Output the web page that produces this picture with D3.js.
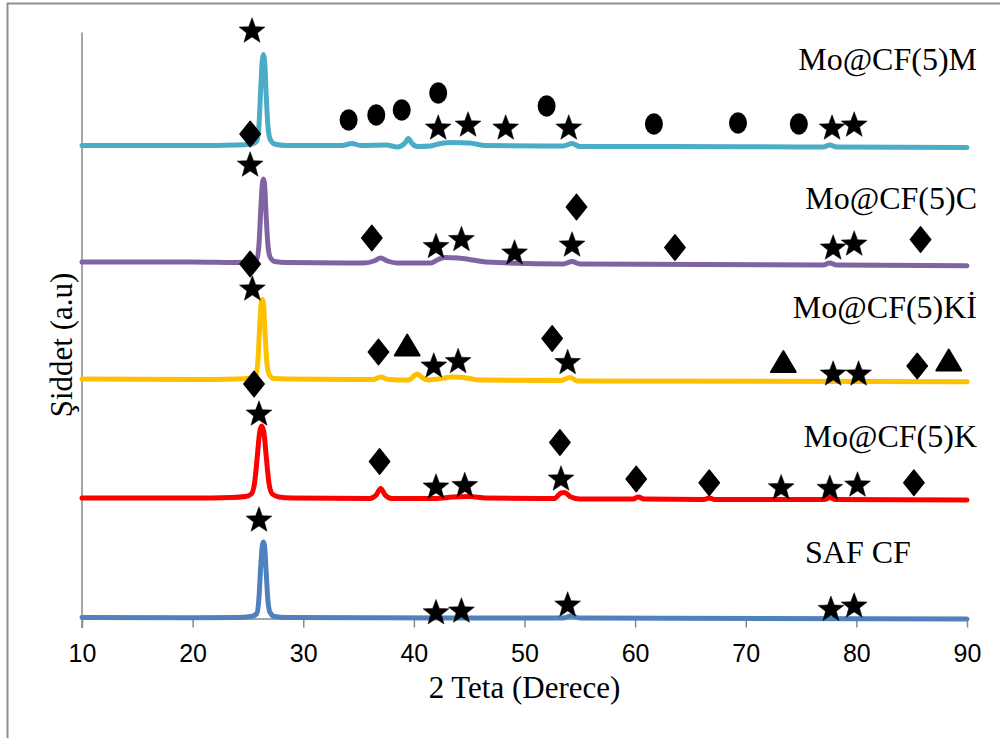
<!DOCTYPE html>
<html><head><meta charset="utf-8">
<script src="https://cdn.jsdelivr.net/npm/d3@7"></script>
<style>body{margin:0;background:#fff}svg{display:block}</style>
</head><body><svg id="chart" width="1000" height="738"></svg>
<script>
// ---------------- DATA ----------------
const seriesNames = ["SAF CF", "Mo@CF(5)K", "Mo@CF(5)Kİ", "Mo@CF(5)C", "Mo@CF(5)M"];
const seriesColors = ["#4F81BD", "#FF0000", "#FFC000", "#8064A2", "#4BACC6"];
// vertical stacking offsets (a.u.)
const seriesOffsets = [0, 1195, 2385, 3555, 4720];

// [2θ, intensity a.u.] relative to each trace's baseline
const safCF = [[10,0],[20,-2],[24,0],[25.3,10],[25.8,40],[26.0,200],[26.15,500],[26.3,720],[26.4,755],[26.5,720],[26.65,450],[26.8,180],[27.0,50],[27.4,10],[28.5,0],[53.5,-5],[54.2,15],[55,-5],[90,-15]];
const moK = [[10,0],[20,0],[23.5,5],[24.8,15],[25.3,40],[25.6,150],[25.85,420],[26.05,650],[26.24,720],[26.45,650],[26.65,420],[26.9,150],[27.2,40],[27.8,10],[29,0],[36.0,-5],[36.6,30],[37.0,95],[37.4,30],[38,-5],[42,-5],[43.5,10],[45,15],[46.5,0],[52.7,-5],[53.3,50],[53.6,55],[54.2,10],[55,-10],[59.8,-10],[60.3,10],[60.8,-10],[66.2,-15],[66.7,0],[67.2,-15],[77.1,-15],[77.6,5],[78.1,-15],[90,-20]];
const moKI = [[10,0],[20,-5],[24,0],[25.3,10],[25.7,30],[25.9,180],[26.05,500],[26.2,760],[26.3,795],[26.4,760],[26.55,450],[26.7,180],[26.9,50],[27.3,5],[28.5,0],[36.3,-5],[37.0,20],[37.7,-5],[39.5,-10],[40.3,50],[40.8,10],[41.3,-10],[42.2,0],[43.5,20],[44.5,15],[46,-10],[53.3,-15],[54.1,15],[54.8,-20],[90,-27]];
const moC = [[10,0],[20,0],[24,-5],[25.3,0],[25.8,30],[26.0,180],[26.15,500],[26.3,780],[26.4,830],[26.5,780],[26.65,450],[26.8,180],[27.0,50],[27.4,5],[28.5,-5],[35.5,-10],[36.4,10],[37.0,40],[37.6,10],[38.5,-10],[41.5,-10],[42.2,25],[42.8,45],[44,40],[45.3,20],[46.5,0],[53.5,-20],[54.3,5],[55.0,-20],[77.0,-30],[77.6,-10],[78.2,-30],[90,-37]];
const moM = [[10,0],[20,0],[24,5],[25.3,15],[25.8,45],[26.0,205],[26.15,555],[26.3,855],[26.4,910],[26.5,855],[26.65,505],[26.8,205],[27.0,65],[27.4,15],[28.5,0],[33.5,0],[34.4,20],[35.2,0],[37.5,5],[38.5,-15],[39.2,25],[39.5,70],[39.8,25],[40.3,-10],[41.5,-5],[42.4,20],[43.5,30],[45,25],[46.5,0],[53.5,-5],[54.3,20],[55.0,-10],[61.6,-10],[77.0,-15],[77.6,5],[78.2,-15],[90,-20]];
const seriesData = [safCF, moK, moKI, moC, moM];

// phase markers: [2θ, absolute intensity a.u., symbol]
const markersSAF = [[26.0,985,"star"],[42.0,58,"star"],[44.3,75,"star"],[53.9,135,"star"],[77.7,92,"star"],[79.8,125,"star"]];
const markersK = [[26.0,2045,"star"],[36.9,1560,"diamond"],[42.0,1315,"star"],[44.6,1330,"star"],[53.2,1750,"diamond"],[53.3,1395,"star"],[60.1,1385,"diamond"],[66.7,1348,"diamond"],[73.2,1308,"star"],[77.6,1302,"star"],[80.1,1335,"star"],[85.2,1348,"diamond"]];
const markersKI = [[25.4,3295,"star"],[25.55,2335,"diamond"],[36.8,2655,"diamond"],[39.4,2725,"triangle"],[41.8,2525,"star"],[44.0,2570,"star"],[52.5,2790,"diamond"],[53.9,2560,"star"],[73.4,2560,"triangle"],[77.9,2445,"star"],[80.2,2445,"star"],[85.5,2515,"diamond"],[88.35,2575,"triangle"]];
const markersC = [[25.2,4535,"star"],[25.2,3535,"diamond"],[36.2,3795,"diamond"],[42.0,3720,"star"],[44.3,3790,"star"],[49.1,3655,"star"],[54.7,4105,"diamond"],[54.3,3735,"star"],[63.6,3700,"diamond"],[77.9,3705,"star"],[79.8,3745,"star"],[85.8,3780,"diamond"]];
const markersM = [[25.37,5875,"star"],[25.2,4835,"diamond"],[34.1,4975,"circle"],[36.6,5025,"circle"],[38.9,5075,"circle"],[42.2,5245,"circle"],[42.2,4905,"star"],[44.9,4935,"star"],[48.3,4905,"star"],[52.0,5115,"circle"],[54.0,4905,"star"],[61.7,4935,"circle"],[69.3,4945,"circle"],[74.8,4935,"circle"],[77.8,4905,"star"],[79.8,4935,"star"]];
const allMarkers = [markersSAF, markersK, markersKI, markersC, markersM];

const xTicks = [10, 20, 30, 40, 50, 60, 70, 80, 90];
const xTitle = "2 Teta (Derece)";
const yTitle = "Şiddet (a.u)";

// ---------------- LAYOUT / STYLE ----------------
const svg = d3.select("#chart");
const x = d3.scaleLinear().domain([10, 90]).range([82, 967]);
const y = d3.scaleLinear().domain([0, 5850]).range([617.5, 32.5]);
const axisColor = "#898989";

// outer frame
svg.append("path").attr("d", "M7.5,738 L7.5,3.5 L1000,3.5")
  .attr("fill", "none").attr("stroke", "#8f8f8f").attr("stroke-width", 2);

// x axis
const xAxis = svg.append("g").attr("transform", "translate(0,618.5)")
  .call(d3.axisBottom(x).tickValues(xTicks).tickSize(9).tickSizeOuter(0).tickFormat(d3.format("d")));
xAxis.select(".domain").attr("stroke", axisColor).attr("stroke-width", 1.5);
xAxis.selectAll(".tick line").attr("stroke", axisColor).attr("stroke-width", 1.5);
xAxis.selectAll(".tick text").attr("y", 43).attr("dy", null)
  .attr("font-family", "'Liberation Sans', Arial, sans-serif").attr("font-size", 25).attr("fill", "#000");

// y axis (line only)
svg.append("line").attr("x1", 82).attr("x2", 82).attr("y1", y.range()[1]).attr("y2", 628)
  .attr("stroke", axisColor).attr("stroke-width", 1.5);

// titles
const serif = "'Liberation Serif', 'Times New Roman', serif";
svg.append("text").attr("x", x(50)).attr("y", 698).attr("text-anchor", "middle")
  .attr("font-family", serif).attr("font-size", 31).text(xTitle);
svg.append("text").attr("transform", "translate(72,345) rotate(-90)").attr("text-anchor", "middle")
  .attr("font-family", serif).attr("font-size", 31).text(yTitle);

// traces
const line = d3.line().curve(d3.curveMonotoneX);
seriesData.forEach((data, i) => {
  line.x(d => x(d[0])).y(d => y(d[1] + seriesOffsets[i]));
  svg.append("path").datum(data).attr("d", line)
    .attr("fill", "none").attr("stroke", seriesColors[i]).attr("stroke-width", 5)
    .attr("stroke-linejoin", "round").attr("stroke-linecap", "round");
});

// series labels (layout)
const labelPos = [[805, 563, "start"], [977, 447, "end"], [977, 318, "end"], [977, 209, "end"], [977, 70, "end"]];
seriesNames.forEach((name, i) => {
  svg.append("text").attr("x", labelPos[i][0]).attr("y", labelPos[i][1]).attr("text-anchor", labelPos[i][2])
    .attr("font-family", serif).attr("font-size", 32).attr("fill", "#000").text(name);
});

// marker shapes, centred visually
function shapePath(kind) {
  if (kind === "star") {
    const R = 13.6, r = R * 0.42, dy = 0.0955 * R;
    const pts = d3.range(10).map(k => {
      const a = -Math.PI / 2 + k * Math.PI / 5, rr = k % 2 ? r : R;
      return [rr * Math.cos(a), rr * Math.sin(a) + dy];
    });
    return "M" + pts.map(p => p.join(",")).join("L") + "Z";
  }
  if (kind === "diamond") return "M0,-12.5L10,0L0,12.5L-10,0Z";
  if (kind === "triangle") return "M0,-10.5L12.5,10.5L-12.5,10.5Z";
  if (kind === "circle") return "M-9,0A9,10.7 0 1,0 9,0A9,10.7 0 1,0 -9,0Z";
}
allMarkers.forEach(list => {
  svg.append("g").selectAll("path").data(list).join("path")
    .attr("transform", d => `translate(${x(d[0])},${y(d[1])})`)
    .attr("d", d => shapePath(d[2]))
    .attr("fill", "#000").attr("stroke", "#000")
    .attr("stroke-width", d => d[2] === "star" ? 0.5 : (d[2] === "circle" ? 0 : 1.8))
    .attr("stroke-linejoin", "round");
});
</script>
</body></html>
